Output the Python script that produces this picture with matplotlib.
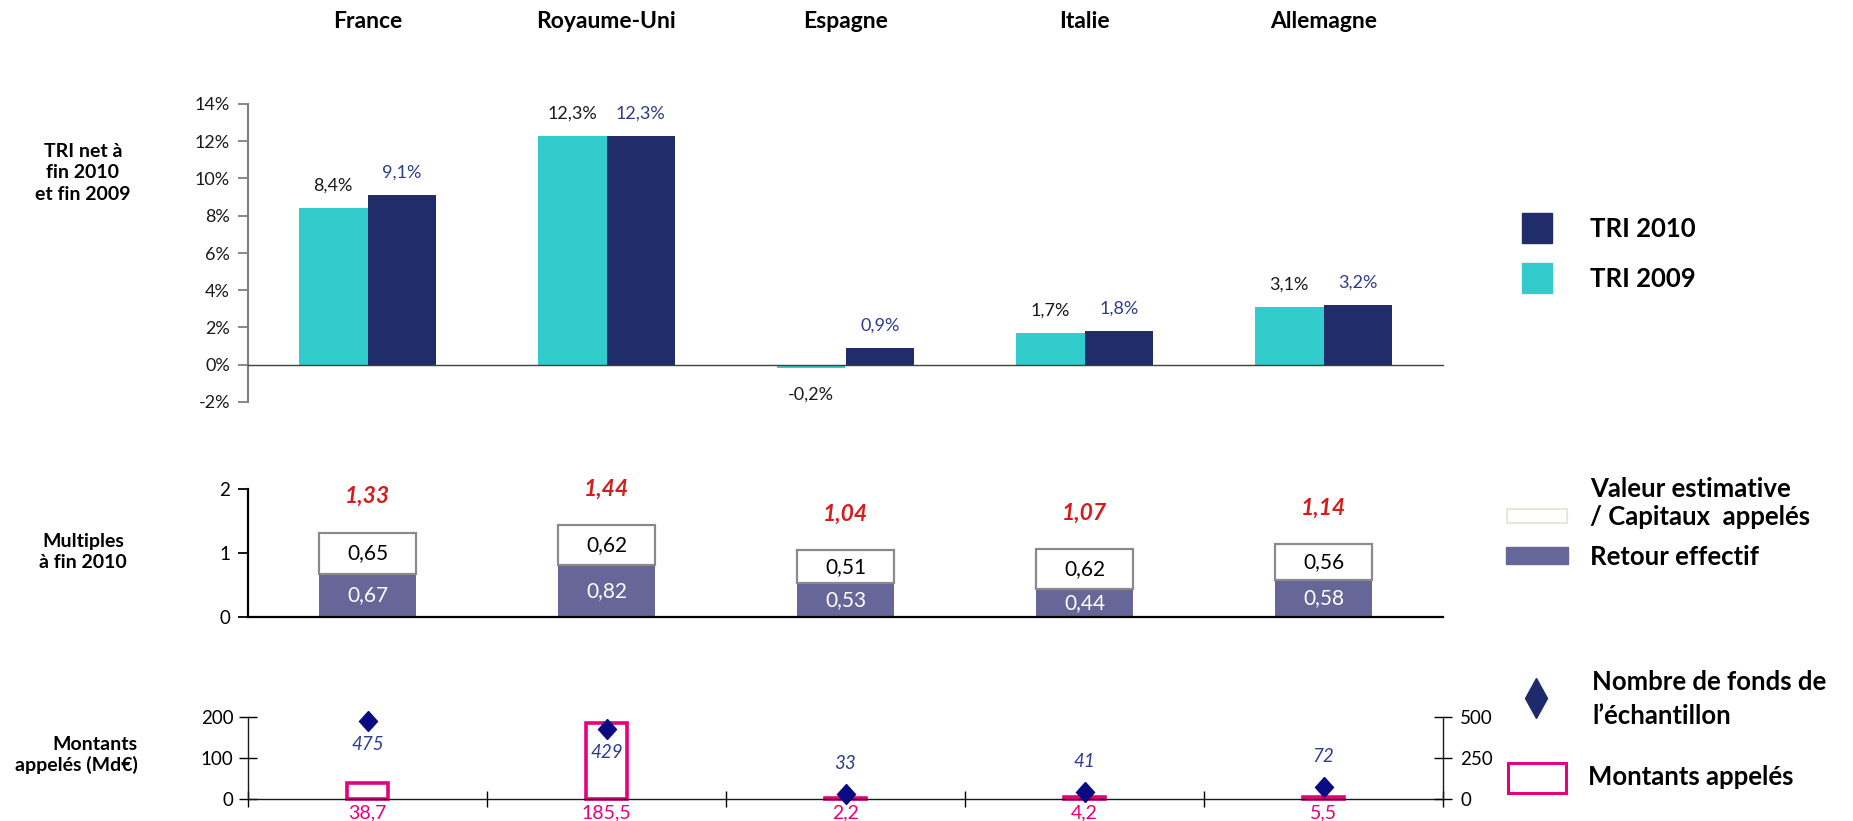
import matplotlib
matplotlib.use('Agg')
import matplotlib.pyplot as plt
import numpy as np
from matplotlib.markers import MarkerStyle
from matplotlib.transforms import Affine2D, blended_transform_factory
from matplotlib.patches import Rectangle

plt.rcParams['font.family'] = ['Lato', 'DejaVu Sans']

# ---------------- data ----------------
pays = ['France', 'Royaume-Uni', 'Espagne', 'Italie', 'Allemagne']
tri_2009 = [8.4, 12.3, -0.2, 1.7, 3.1]
tri_2010 = [9.1, 12.3, 0.9, 1.8, 3.2]
tri_ticks = [-2, 0, 2, 4, 6, 8, 10, 12, 14]
retour_effectif = [0.67, 0.82, 0.53, 0.44, 0.58]
valeur_estimative = [0.65, 0.62, 0.51, 0.62, 0.56]
multiples_totaux = [1.33, 1.44, 1.04, 1.07, 1.14]
multiples_ticks = [0, 1, 2]
montants_appeles = [38.7, 185.5, 2.2, 4.2, 5.5]
nombre_fonds = [475, 429, 33, 41, 72]
montants_ticks = [0, 100, 200]
fonds_ticks = [0, 250, 500]

# ---------------- style ----------------
C_2009 = '#33CCCC'
C_2010 = '#212C6B'
C_2010_TXT = '#2E3C8C'
C_RETOUR = '#666699'
C_PINK = '#E6007E'
C_RED = '#D41E1E'
C_DIAM = '#0A0A82'


def fr(v, d=1):
    return f"{v:.{d}f}".replace('.', ',')


W, H = 1853, 821
fig = plt.figure(figsize=(W / 100, H / 100), dpi=100)


def rect(left, top, right, bottom):
    return [left / W, 1 - bottom / H, (right - left) / W, (bottom - top) / H]


x = np.arange(len(pays))
L, R = 248, 1443
FS = 13

# ---------------- top panel: TRI ----------------
ax1 = fig.add_axes(rect(L, 104, R, 402))
w1 = 0.287
ax1.bar(x - w1 / 2, tri_2009, w1, color=C_2009, zorder=2)
ax1.bar(x + w1 / 2, tri_2010, w1, color=C_2010, zorder=2)
ax1.set_xlim(-0.5, len(pays) - 0.5)
ax1.set_ylim(-2, 14)
ax1.set_yticks(tri_ticks)
ax1.set_yticklabels([f"{t}%" for t in tri_ticks], fontsize=FS, color='#1a1a1a')
ax1.set_xticks([])
for s in ['top', 'right']:
    ax1.spines[s].set_visible(False)
ax1.spines['bottom'].set_position(('data', 0))
ax1.spines['bottom'].set_color('#404040')
ax1.spines['bottom'].set_linewidth(1.0)
ax1.spines['left'].set_color('#7f7f7f')
ax1.spines['left'].set_linewidth(1.5)
ax1.tick_params(axis='y', direction='out', length=7, width=1.3, color='#7f7f7f', pad=6)

for xi, v in zip(x, tri_2009):
    off = 16 if v >= 0 else -19
    ax1.annotate(fr(v) + '%', (xi - w1 / 2, v), xytext=(0, off), textcoords='offset points',
                 ha='center', va='center', fontsize=FS, color='#1a1a1a', annotation_clip=False)
for xi, v in zip(x, tri_2010):
    off = 16 if v >= 0 else -19
    ax1.annotate(fr(v) + '%', (xi + w1 / 2, v), xytext=(0, off), textcoords='offset points',
                 ha='center', va='center', fontsize=FS, color=C_2010_TXT, annotation_clip=False)

# country titles
tr = blended_transform_factory(ax1.transData, fig.transFigure)
for xi, p in zip(x, pays):
    ax1.text(xi, 1 - 21 / H, p, transform=tr, ha='center', va='center',
             fontsize=16.5, fontweight='bold', color='black')

# ---------------- middle panel: multiples ----------------
ax2 = fig.add_axes(rect(L, 489, R, 617))
w2 = 0.405
ax2.bar(x, retour_effectif, w2, color=C_RETOUR, edgecolor='none', zorder=2, clip_on=False)
ax2.bar(x, valeur_estimative, w2, bottom=retour_effectif, color='white',
        edgecolor='#8a8a8a', linewidth=1.6, zorder=2, clip_on=False)
ax2.set_xlim(-0.5, len(pays) - 0.5)
ax2.set_ylim(0, 2)
ax2.set_yticks(multiples_ticks)
ax2.set_yticklabels([str(t) for t in multiples_ticks], fontsize=FS + 0.5)
ax2.set_xticks([])
for s in ['top', 'right']:
    ax2.spines[s].set_visible(False)
for s in ['left', 'bottom']:
    ax2.spines[s].set_color('black')
    ax2.spines[s].set_linewidth(1.6)
ax2.spines['bottom'].set_zorder(3)
ax2.tick_params(axis='y', direction='out', length=7, width=1.3, pad=6)
for xi, r, v, t in zip(x, retour_effectif, valeur_estimative, multiples_totaux):
    ax2.text(xi, r / 2, fr(r, 2), ha='center', va='center', fontsize=15, color='white', zorder=4)
    ax2.text(xi, r + v / 2, fr(v, 2), ha='center', va='center', fontsize=15, color='black', zorder=4)
    ax2.annotate(fr(t, 2), (xi, r + v), xytext=(0, 26), textcoords='offset points',
                 ha='center', va='center', fontsize=16.5, fontweight='bold', style='italic',
                 color=C_RED, annotation_clip=False)

# ---------------- bottom panel: montants ----------------
ax3 = fig.add_axes(rect(L, 717, R, 799))
w3 = 0.175
ax3.bar(x, montants_appeles, w3, color='white', edgecolor=C_PINK, linewidth=2.6,
        zorder=2, clip_on=False)
ax3.set_xlim(-0.5, len(pays) - 0.5)
ax3.set_ylim(0, 200)
ax3.set_yticks(montants_ticks)
ax3.set_yticklabels([str(t) for t in montants_ticks], fontsize=FS + 0.5)
ax3.set_xticks(np.arange(-0.5, len(pays), 1.0))
ax3.set_xticklabels([])
for s in ['top', 'right']:
    ax3.spines[s].set_visible(False)
for s in ['left', 'bottom']:
    ax3.spines[s].set_color('#1a1a1a')
    ax3.spines[s].set_linewidth(1.0)
ax3.tick_params(axis='y', direction='inout', length=13, width=1.0, pad=4)
ax3.tick_params(axis='x', direction='inout', length=12, width=1.0)
for xi, v in zip(x, montants_appeles):
    ax3.annotate(fr(v), (xi, 0), xytext=(0, -10), textcoords='offset points',
                 ha='center', va='center', fontsize=14, color=C_PINK, annotation_clip=False)

ax3b = ax3.twinx()
ax3b.set_ylim(0, 500)
ax3b.set_yticks(fonds_ticks)
ax3b.set_yticklabels([str(t) for t in fonds_ticks], fontsize=FS + 0.5)
for s in ['top', 'left', 'bottom']:
    ax3b.spines[s].set_visible(False)
ax3b.spines['right'].set_color('#1a1a1a')
ax3b.spines['right'].set_linewidth(1.0)
ax3b.tick_params(axis='y', direction='inout', length=13, width=1.0, pad=6)
diam = MarkerStyle('D', transform=Affine2D().scale(0.9, 1.0))
ax3b.plot(x, nombre_fonds, linestyle='none', marker=diam, markersize=10.5,
          color=C_DIAM, zorder=5, clip_on=False)
for xi, v in zip(x, nombre_fonds):
    off = -17 if v > 250 else 22
    ax3b.annotate(str(v), (xi, v), xytext=(0, off), textcoords='offset points',
                  ha='center', va='center', fontsize=FS + 0.5, style='italic',
                  color=C_2010_TXT, annotation_clip=False)

# ---------------- row labels ----------------
fig.text(83 / W, 1 - 173 / H, 'TRI net à\nfin 2010\net fin 2009', ha='center', va='center',
         fontsize=14, fontweight='bold', linespacing=1.3)
fig.text(83 / W, 1 - 552 / H, 'Multiples\nà fin 2010', ha='center', va='center',
         fontsize=14, fontweight='bold', linespacing=1.3)
fig.text(138 / W, 1 - 755 / H, 'Montants\nappelés (Md€)', ha='right', va='center',
         fontsize=14, fontweight='bold', linespacing=1.22)

# ---------------- legends (figure pixel overlay) ----------------
ov = fig.add_axes([0, 0, 1, 1], zorder=10)
ov.set_xlim(0, W)
ov.set_ylim(H, 0)
ov.axis('off')
ov.patch.set_alpha(0)

LG = 18.5
ov.add_patch(Rectangle((1522, 213), 30, 30, color=C_2010))
ov.text(1590, 229, 'TRI 2010', ha='left', va='center', fontsize=LG, fontweight='bold')
ov.add_patch(Rectangle((1522, 263), 30, 30, color=C_2009))
ov.text(1590, 279, 'TRI 2009', ha='left', va='center', fontsize=LG, fontweight='bold')

ov.add_patch(Rectangle((1507, 509), 60, 14, facecolor='white', edgecolor='#e6e6da', linewidth=1.5))
ov.text(1590, 503, 'Valeur estimative\n/ Capitaux  appelés', ha='left', va='center',
        fontsize=LG, fontweight='bold', linespacing=1.2)
ov.add_patch(Rectangle((1506, 547), 62, 17, color=C_RETOUR))
ov.text(1590, 557, 'Retour effectif', ha='left', va='center', fontsize=LG, fontweight='bold')

ldiam = MarkerStyle('D', transform=Affine2D().scale(0.55, 1.0))
ov.plot([1536], [698], linestyle='none', marker=ldiam, markersize=20, color='#1F2A6B')
ov.text(1592, 699, 'Nombre de fonds de\nl’échantillon', ha='left', va='center',
        fontsize=LG, fontweight='bold', linespacing=1.5)
ov.add_patch(Rectangle((1508, 763), 58, 30, facecolor='white', edgecolor=C_PINK, linewidth=2.2))
ov.text(1588, 777, 'Montants appelés', ha='left', va='center', fontsize=LG, fontweight='bold')

fig.savefig('out.png', dpi=100)
